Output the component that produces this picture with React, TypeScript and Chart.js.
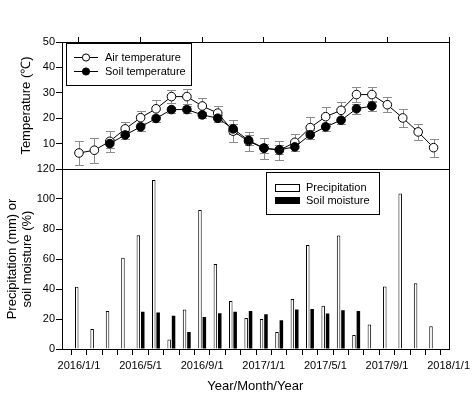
import React, { useEffect, useRef } from 'react';
import { Chart, registerables } from 'chart.js';

Chart.register(...registerables);

// ---------- data ----------
// month index: 0 = 2016/1/1 ... 24 = 2018/1/1
const airMonths = [0, 1, 2, 3, 4, 5, 6, 7, 8, 9, 10, 11, 12, 13, 14, 15, 16, 17, 18, 19, 20, 21, 22, 23];
const airTemperature = [6.3, 7.4, 10.9, 15.8, 20.2, 23.7, 28.5, 28.5, 24.8, 22.0, 14.9, 10.9, 8.2, 7.4, 10.5, 16.3, 20.6, 23.1, 29.3, 29.3, 25.3, 20.1, 14.6, 8.4];
const airError = [4.6, 4.9, 4.1, 2.8, 2.8, 3.3, 2.5, 2.9, 3.0, 2.8, 4.2, 3.8, 4.2, 3.7, 3.4, 4.3, 3.8, 3.3, 3.0, 3.0, 3.0, 3.6, 3.3, 3.6];

const soilTempMonths = [2, 3, 4, 5, 6, 7, 8, 9, 10, 11, 12, 13, 14, 15, 16, 17, 18, 19];
const soilTemperature = [10.0, 13.4, 16.6, 19.9, 23.4, 23.4, 21.3, 20.0, 15.8, 11.3, 8.2, 7.6, 8.7, 13.5, 16.6, 19.2, 23.7, 24.8];
const soilTempError = [1.8, 1.6, 1.5, 1.4, 1.2, 1.3, 1.2, 1.4, 1.9, 2.0, 1.8, 1.7, 1.6, 1.8, 1.5, 1.4, 1.9, 1.8];

const precipMonths = [0, 1, 2, 3, 4, 5, 6, 7, 8, 9, 10, 11, 12, 13, 14, 15, 16, 17, 18, 19, 20, 21, 22, 23];
const precipitation = [41.5, 13.3, 25.3, 60.9, 75.8, 112.7, 6.4, 26.4, 92.7, 56.7, 32.0, 20.7, 20.0, 11.3, 33.3, 69.3, 28.9, 75.6, 9.3, 16.4, 41.6, 103.6, 43.8, 15.1];

const moistureMonths = [4, 5, 6, 7, 8, 9, 10, 11, 12, 13, 14, 15, 16, 17, 18];
const soilMoisture = [24.9, 24.4, 22.2, 11.3, 21.3, 23.8, 24.9, 25.3, 23.1, 19.1, 26.4, 26.7, 23.6, 25.8, 25.3];

const majorTickMonths = [0, 4, 8, 12, 16, 20, 24];
const majorTickLabels = ['2016/1/1', '2016/5/1', '2016/9/1', '2017/1/1', '2017/5/1', '2017/9/1', '2018/1/1'];
const minorTickMonths = [0, 1, 2, 3, 4, 5, 6, 7, 8, 9, 10, 11, 12, 13, 14, 15, 16, 17, 18, 19, 20, 21, 22, 23, 24];
const tempTicks = [10, 20, 30, 40, 50];
const bottomTicks = [0, 20, 40, 60, 80, 100, 120];

const X_MIN = -1.1;
const X_MAX = 24;

const FONT = "'Liberation Sans', Arial, Helvetica, sans-serif";

// ---------- plugins ----------
const framePlugin = {
  id: 'frame',
  afterDraw(chart: any) {
    const { ctx, chartArea: a } = chart;
    ctx.save();
    ctx.strokeStyle = '#000';
    ctx.lineWidth = 1;
    ctx.strokeRect(Math.round(a.left) + 0.5, Math.round(a.top) + 0.5, Math.round(a.right - a.left), Math.round(a.bottom - a.top));
    ctx.restore();
  },
};

const errorBarPlugin = {
  id: 'errorBars',
  beforeDatasetsDraw(chart: any) {
    const { ctx } = chart;
    const xs = chart.scales.x;
    const ys = chart.scales.y;
    ctx.save();
    ctx.strokeStyle = '#8c8c8c';
    ctx.lineWidth = 1;
    chart.data.datasets.forEach((ds: any) => {
      const errs: number[] = ds.errors || [];
      ds.data.forEach((p: any, i: number) => {
        const e = errs[i];
        if (e == null) return;
        const px = Math.round(xs.getPixelForValue(p.x)) + 0.5;
        const t = Math.round(ys.getPixelForValue(p.y + e)) + 0.5;
        const b = Math.round(ys.getPixelForValue(p.y - e)) + 0.5;
        ctx.beginPath();
        ctx.moveTo(px, t);
        ctx.lineTo(px, b);
        ctx.moveTo(px - 4.5, t);
        ctx.lineTo(px + 4.5, t);
        ctx.moveTo(px - 4.5, b);
        ctx.lineTo(px + 4.5, b);
        ctx.stroke();
      });
    });
    ctx.restore();
  },
};

const topLegendPlugin = {
  id: 'topLegend',
  afterDraw(chart: any) {
    const { ctx } = chart;
    ctx.save();
    ctx.strokeStyle = '#000';
    ctx.lineWidth = 1;
    ctx.strokeRect(66.5, 43.5, 125, 42);
    const rows = [57.5, 71.5];
    chart.data.datasets.forEach((ds: any, i: number) => {
      const y = rows[i];
      ctx.beginPath();
      ctx.moveTo(74, y);
      ctx.lineTo(98, y);
      ctx.strokeStyle = '#000';
      ctx.stroke();
      ctx.beginPath();
      ctx.arc(86, y, 3.6, 0, Math.PI * 2);
      ctx.fillStyle = ds.pointBackgroundColor;
      ctx.fill();
      ctx.stroke();
      ctx.fillStyle = '#000';
      ctx.font = `11px ${FONT}`;
      ctx.textBaseline = 'middle';
      ctx.textAlign = 'left';
      ctx.fillText(ds.label, 105, y + 0.5);
    });
    ctx.restore();
  },
};

const bottomLegendPlugin = {
  id: 'bottomLegend',
  afterDraw(chart: any) {
    const { ctx } = chart;
    ctx.save();
    ctx.strokeStyle = '#000';
    ctx.lineWidth = 1;
    ctx.strokeRect(266.5, 22.5, 113, 42);
    const rows = [38, 50.5];
    chart.data.datasets.forEach((ds: any, i: number) => {
      const y = rows[i];
      if (ds.backgroundColor === '#000') {
        ctx.fillStyle = '#000';
        ctx.fillRect(275, y - 3.5, 25, 7);
      } else {
        ctx.fillStyle = '#fff';
        ctx.fillRect(275, y - 3.5, 25, 7);
        ctx.strokeRect(275.5, y - 3.5, 24, 7);
      }
      ctx.fillStyle = '#000';
      ctx.font = `11px ${FONT}`;
      ctx.textBaseline = 'middle';
      ctx.textAlign = 'left';
      ctx.fillText(ds.label, 306, y);
    });
    ctx.restore();
  },
};

export default function App() {
  const topRef = useRef<HTMLCanvasElement>(null);
  const botRef = useRef<HTMLCanvasElement>(null);

  useEffect(() => {
    Chart.defaults.font.family = FONT;
    Chart.defaults.color = '#000';

    const topChart = new Chart(topRef.current as HTMLCanvasElement, {
      type: 'line',
      data: {
        datasets: [
          {
            label: 'Air temperature',
            data: airMonths.map((m, i) => ({ x: m, y: airTemperature[i] })),
            errors: airError,
            borderColor: '#000',
            borderWidth: 1,
            pointRadius: 4.3,
            pointBorderWidth: 1,
            pointBorderColor: '#000',
            pointBackgroundColor: '#fff',
            order: 1,
          } as any,
          {
            label: 'Soil temperature',
            data: soilTempMonths.map((m, i) => ({ x: m, y: soilTemperature[i] })),
            errors: soilTempError,
            borderColor: '#000',
            borderWidth: 1,
            pointRadius: 4.3,
            pointBorderWidth: 1,
            pointBorderColor: '#000',
            pointBackgroundColor: '#000',
            order: 0,
          } as any,
        ],
      },
      options: {
        responsive: false,
        animation: false,
        layout: { padding: { left: 0, right: 25, top: 37, bottom: 11 } },
        plugins: { legend: { display: false }, tooltip: { enabled: false } },
        scales: {
          x: {
            type: 'linear',
            position: 'top',
            min: X_MIN,
            max: X_MAX,
            afterBuildTicks: (s: any) => {
              s.ticks = majorTickMonths.map((v) => ({ value: v }));
            },
            ticks: { display: false },
            grid: { drawOnChartArea: false, tickLength: 5, color: '#000' },
            border: { display: false },
            afterFit: (s: any) => {
              s.height = 5;
            },
          },
          y: {
            type: 'linear',
            min: 0,
            max: 50,
            afterBuildTicks: (s: any) => {
              s.ticks = tempTicks.map((v) => ({ value: v }));
            },
            ticks: { padding: 1, font: { size: 11 }, color: '#000' },
            grid: { drawOnChartArea: false, tickLength: 6, color: '#000' },
            border: { display: false },
            title: {
              display: true,
              text: 'Temperature (℃)',
              font: { size: 13 },
              color: '#000',
              padding: { top: 19, bottom: 0 },
            },
            afterFit: (s: any) => {
              s.width = 62;
            },
          },
        },
      } as any,
      plugins: [errorBarPlugin, framePlugin, topLegendPlugin],
    });

    const botChart = new Chart(botRef.current as HTMLCanvasElement, {
      type: 'bar',
      data: {
        datasets: [
          {
            label: 'Precipitation',
            data: precipMonths.map((m, i) => ({ x: m, y: precipitation[i] })),
            backgroundColor: '#fff',
            borderColor: '#000',
            borderWidth: 1,
            categoryPercentage: 0.57,
            barPercentage: 0.8,
          },
          {
            label: 'Soil moisture',
            data: moistureMonths.map((m, i) => ({ x: m, y: soilMoisture[i] })),
            backgroundColor: '#000',
            borderWidth: 0,
            categoryPercentage: 0.57,
            barPercentage: 0.8,
          },
        ],
      },
      options: {
        responsive: false,
        animation: false,
        layout: { padding: { left: 0, right: 25, top: 19, bottom: 0 } },
        plugins: { legend: { display: false }, tooltip: { enabled: false } },
        scales: {
          x: {
            type: 'linear',
            position: 'bottom',
            min: X_MIN,
            max: X_MAX,
            offset: false,
            afterBuildTicks: (s: any) => {
              s.ticks = minorTickMonths.map((v) => ({ value: v }));
            },
            ticks: {
              autoSkip: false,
              maxRotation: 0,
              minRotation: 0,
              padding: 4,
              font: { size: 11 },
              color: '#000',
              callback: (v: any) => {
                const k = majorTickMonths.indexOf(Number(v));
                return k >= 0 ? majorTickLabels[k] : '';
              },
            },
            grid: { drawOnChartArea: false, tickLength: 6, color: '#000' },
            border: { display: false },
            title: {
              display: true,
              text: 'Year/Month/Year',
              font: { size: 13 },
              color: '#000',
              padding: { top: 0, bottom: 3.5 },
            },
            afterFit: (s: any) => {
              s.height = 49;
            },
          },
          y: {
            type: 'linear',
            min: 0,
            max: 120,
            afterBuildTicks: (s: any) => {
              s.ticks = bottomTicks.map((v) => ({ value: v }));
            },
            ticks: { padding: 1, font: { size: 11 }, color: '#000' },
            grid: { drawOnChartArea: false, tickLength: 6, color: '#000' },
            border: { display: false },
            title: {
              display: true,
              text: ['Precipitation (mm) or', 'soil moisture (%)'],
              font: { size: 13, lineHeight: 1.15 },
              color: '#000',
              padding: { top: 5, bottom: 0 },
            },
            afterFit: (s: any) => {
              s.width = 62;
            },
          },
        },
      } as any,
      plugins: [framePlugin, bottomLegendPlugin],
    });

    return () => {
      topChart.destroy();
      botChart.destroy();
    };
  }, []);

  return (
    <div style={{ position: 'absolute', left: 0, top: 0, width: 474, height: 398, background: '#fff' }}>
      <canvas ref={botRef} width={474} height={248} style={{ position: 'absolute', left: 0, top: 150 }} />
      <canvas ref={topRef} width={474} height={180} style={{ position: 'absolute', left: 0, top: 0 }} />
    </div>
  );
}
